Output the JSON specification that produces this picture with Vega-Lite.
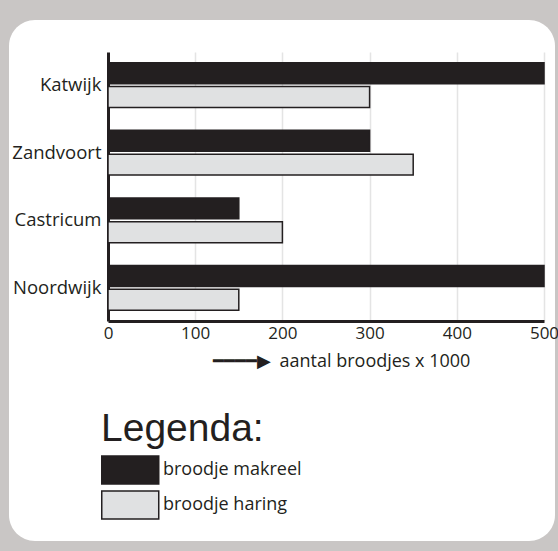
{
  "$schema": "https://vega.github.io/schema/vega-lite/v6.json",
  "width": 546,
  "height": 521,
  "autosize": {"type": "none"},
  "padding": {"left": 9, "top": 20, "right": 3, "bottom": 10},
  "background": "#c9c6c5",
  "view": {"fill": "#ffffff", "stroke": null, "cornerRadius": 26},
  "data": {
    "values": [
      {"plaats": "Katwijk", "soort": "broodje makreel", "aantal": 500},
      {"plaats": "Katwijk", "soort": "broodje haring", "aantal": 300},
      {"plaats": "Zandvoort", "soort": "broodje makreel", "aantal": 300},
      {"plaats": "Zandvoort", "soort": "broodje haring", "aantal": 350},
      {"plaats": "Castricum", "soort": "broodje makreel", "aantal": 150},
      {"plaats": "Castricum", "soort": "broodje haring", "aantal": 200},
      {"plaats": "Noordwijk", "soort": "broodje makreel", "aantal": 500},
      {"plaats": "Noordwijk", "soort": "broodje haring", "aantal": 150}
    ]
  },
  "encoding": {
    "y": {
      "field": "plaats",
      "type": "nominal",
      "sort": ["Katwijk", "Zandvoort", "Castricum", "Noordwijk"],
      "scale": {"range": [32, 301], "paddingInner": 0.337, "paddingOuter": 0.16, "round": false},
      "axis": {
        "orient": "left",
        "offset": -99,
        "title": null,
        "ticks": false,
        "grid": false,
        "domainColor": "#231f20",
        "domainWidth": 3,
        "labelFont": "Open Sans",
        "labelFontSize": 18.5,
        "labelColor": "#231f20",
        "labelPadding": 7
      }
    },
    "yOffset": {
      "field": "soort",
      "type": "nominal",
      "sort": ["broodje makreel", "broodje haring"],
      "scale": {"paddingInner": 0.12, "paddingOuter": 0}
    }
  },
  "layer": [
    {
      "mark": {"type": "bar", "stroke": "#231f20", "strokeWidth": 1.5},
      "encoding": {
        "x": {
          "field": "aantal",
          "type": "quantitative",
          "scale": {"domain": [0, 500], "range": [99, 535], "nice": false},
          "axis": {
            "orient": "top",
            "offset": 0,
            "values": [100, 200, 300, 400, 500],
            "ticks": false,
            "labels": false,
            "domain": false,
            "title": null,
            "grid": true,
            "gridColor": "#e4e4e4",
            "gridWidth": 1.5
          }
        },
        "fill": {
          "field": "soort",
          "type": "nominal",
          "scale": {"domain": ["broodje makreel", "broodje haring"], "range": ["#231f20", "#e0e1e2"]},
          "legend": {
            "title": "Legenda:",
            "orient": "none",
            "legendX": 92,
            "legendY": 390,
            "padding": 0,
            "titleFont": "Liberation Sans",
            "titleFontSize": 39,
            "titleFontWeight": "normal",
            "titleColor": "#231f20",
            "titlePadding": 6,
            "labelFont": "Open Sans",
            "labelFontSize": 18,
            "labelColor": "#231f20",
            "labelOffset": 32,
            "symbolType": "M-1,-0.98H3V0.98H-1Z",
            "symbolSize": 812,
            "symbolStrokeColor": "#231f20",
            "symbolStrokeWidth": 1.5,
            "rowPadding": 1
          }
        }
      }
    },
    {
      "mark": {"type": "bar", "opacity": 0},
      "encoding": {
        "x": {
          "field": "aantal",
          "type": "quantitative",
          "axis": {
            "orient": "bottom",
            "offset": -220,
            "values": [0, 100, 200, 300, 400, 500],
            "ticks": false,
            "grid": false,
            "labelFlush": false,
            "domainColor": "#231f20",
            "domainWidth": 3,
            "labelFont": "Open Sans",
            "labelFontSize": 17,
            "labelColor": "#231f20",
            "labelPadding": 4,
            "title": "━━━━▶\u2002aantal broodjes x 1000",
            "titleFont": "Open Sans",
            "titleFontSize": 18,
            "titleFontWeight": "normal",
            "titleColor": "#231f20",
            "titleAlign": "left",
            "titleBaseline": "alphabetic",
            "titleX": 203,
            "titleY": 45
          }
        }
      }
    }
  ],
  "resolve": {"axis": {"x": "independent"}}
}
